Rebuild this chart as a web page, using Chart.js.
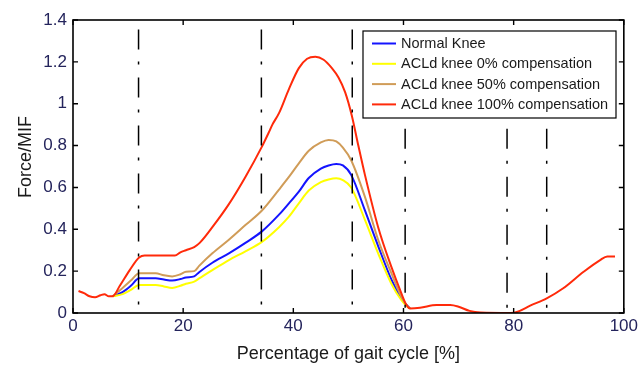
<!DOCTYPE html>
<html lang="en">
  <head>
    <meta charset="UTF-8" />
    <title>Knee force over gait cycle</title>
    <script src="https://cdn.jsdelivr.net/npm/chart.js@4"></script>
    <style>
      body { margin: 0; background: #fff; }
    </style>
  </head>
  <body>
    <canvas id="gaitChart" width="641" height="366"></canvas>
  </body>
  <script>
    // gait cycle samples shared by the normal / 0% / 50% curves
    const gaitX = [7.2, 9, 10.5, 12, 15, 16.5, 18, 19.5, 20.5, 22, 22.9, 25.3, 28.3, 31.3, 34.3,
      37.4, 39.2, 41, 42.8, 45, 46.4, 47.8, 49, 50.5, 53, 55.4, 57.8, 59.6, 60.5, 61.2];
    const normalKnee = [0.08, 0.1, 0.13, 0.166, 0.166, 0.16, 0.155, 0.162, 0.17, 0.175, 0.195, 0.24, 0.285, 0.335, 0.39,
      0.47, 0.524, 0.58, 0.645, 0.69, 0.705, 0.712, 0.705, 0.66, 0.49, 0.32, 0.16, 0.07, 0.04, 0.022];
    const acld0 = [0.08, 0.09, 0.11, 0.134, 0.134, 0.127, 0.12, 0.13, 0.14, 0.15, 0.165, 0.205, 0.253, 0.295, 0.34,
      0.41, 0.46, 0.524, 0.585, 0.625, 0.638, 0.644, 0.635, 0.6, 0.445, 0.285, 0.14, 0.062, 0.035, 0.022];
    const acld50 = [0.08, 0.12, 0.155, 0.19, 0.19, 0.18, 0.175, 0.185, 0.197, 0.2, 0.225, 0.285, 0.35, 0.42, 0.49,
      0.59, 0.65, 0.715, 0.775, 0.815, 0.827, 0.82, 0.79, 0.73, 0.555, 0.35, 0.19, 0.078, 0.04, 0.022];

    // 100% compensation covers the whole cycle
    const fullX = [1, 2, 3, 4, 5, 5.7, 6.5, 7.2, 8.5, 10.3, 12, 13, 18.5, 19.5, 20.5, 22, 23,
      25.3, 28.3, 31.3, 34.3, 35.5, 36.2, 37.4, 39.2, 41, 42.5, 44, 45.5, 47, 48.2, 49.4, 50.6, 51.8, 53, 55.4, 57.8, 59.6,
      60.5, 61.2, 63, 66, 68.5, 70, 72, 74, 79.5, 80.7, 83, 86, 89, 92.7, 95.7, 97, 98.4];
    const acld100 = [0.105, 0.095, 0.08, 0.075, 0.085, 0.09, 0.08, 0.08, 0.13, 0.205, 0.265, 0.275, 0.275, 0.29, 0.3, 0.315, 0.335,
      0.41, 0.52, 0.65, 0.795, 0.86, 0.9, 0.955, 1.07, 1.17, 1.215, 1.225, 1.21, 1.17, 1.125, 1.055, 0.945, 0.8, 0.66, 0.41, 0.22, 0.095,
      0.04, 0.022, 0.025, 0.038, 0.038, 0.03, 0.01, 0.002, 0, 0.006, 0.035, 0.07, 0.118, 0.197, 0.253, 0.27, 0.27];

    // gait phase boundaries (dash-dot markers)
    const phaseX = [11.9, 34.2, 50.7, 60.3, 78.8, 86.0];
    const phaseTop = [1.355, 1.355, 1.355, 0.88, 0.88, 0.88];

    const seriesLabels = ["Normal Knee", "ACLd knee 0% compensation", "ACLd knee 50% compensation", "ACLd knee 100% compensation"];
    const seriesColors = ["#1414ff", "#ffff00", "#d09c58", "#ff2a0a"];

    const xTicks = [0, 20, 40, 60, 80, 100];
    const yTicks = [0, 0.2, 0.4, 0.6, 0.8, 1, 1.2, 1.4];

    const toPoints = (xs, ys) => xs.map((x, i) => ({x: x, y: ys[i]}));

    function curve(idx, xs, ys, order) {
      return {
        label: seriesLabels[idx],
        data: toPoints(xs, ys),
        borderColor: seriesColors[idx],
        borderWidth: 2,
        pointRadius: 0,
        cubicInterpolationMode: "monotone",
        order: order,
      };
    }

    const phaseSets = phaseX.map((x, i) => ({
      label: "phase",
      data: [{x: x, y: phaseTop[i]}, {x: x, y: 0}],
      borderColor: "#000",
      borderWidth: 1.5,
      borderDash: [20, 12, 3, 13],
      pointRadius: 0,
      order: -1,
    }));

    // frame with inward ticks, axis titles and boxed legend
    const matlabFrame = {
      id: "matlabFrame",
      afterDraw(chart) {
        const {ctx, chartArea: a, scales} = chart;
        const tl = 5;
        ctx.save();
        ctx.setLineDash([]);
        ctx.strokeStyle = "#000000";
        ctx.lineWidth = 1.6;
        ctx.strokeRect(a.left, a.top, a.right - a.left, a.bottom - a.top);
        ctx.lineWidth = 1.4;
        ctx.beginPath();
        xTicks.forEach((v) => {
          const px = scales.x.getPixelForValue(v);
          ctx.moveTo(px, a.bottom); ctx.lineTo(px, a.bottom - tl);
          ctx.moveTo(px, a.top); ctx.lineTo(px, a.top + tl);
        });
        yTicks.forEach((v) => {
          const py = scales.y.getPixelForValue(v);
          ctx.moveTo(a.left, py); ctx.lineTo(a.left + tl, py);
          ctx.moveTo(a.right, py); ctx.lineTo(a.right - tl, py);
        });
        ctx.stroke();

        // axis titles
        ctx.fillStyle = "#1a1a1a";
        ctx.font = "18px 'Liberation Sans', Arial, sans-serif";
        ctx.textAlign = "center";
        ctx.textBaseline = "alphabetic";
        ctx.fillText("Percentage of gait cycle [%]", (a.left + a.right) / 2, 359);
        ctx.translate(31, 157);
        ctx.rotate(-Math.PI / 2);
        ctx.fillText("Force/MIF", 0, 0);
        ctx.setTransform(1, 0, 0, 1, 0, 0);

        // legend box
        const lx = 363, ly = 31, lw = 253, lh = 87;
        ctx.fillStyle = "#fff";
        ctx.fillRect(lx, ly, lw, lh);
        ctx.strokeStyle = "#000";
        ctx.lineWidth = 1.2;
        ctx.strokeRect(lx, ly, lw, lh);
        ctx.font = "14.5px 'Liberation Sans', Arial, sans-serif";
        ctx.textAlign = "left";
        ctx.textBaseline = "middle";
        seriesLabels.forEach((label, i) => {
          const ry = 43.5 + i * 20.3;
          ctx.strokeStyle = seriesColors[i];
          ctx.lineWidth = 2;
          ctx.beginPath();
          ctx.moveTo(372, ry); ctx.lineTo(396, ry);
          ctx.stroke();
          ctx.fillStyle = "#1a1a1a";
          ctx.fillText(label, 401, ry + 0.5);
        });
        ctx.restore();
      },
    };

    const tickFont = {family: "'Liberation Sans', Arial", size: 17};

    const ctx = document.getElementById("gaitChart").getContext("2d");
    const gaitChart = new Chart(ctx, {
      type: "line",
      data: {
        datasets: [
          curve(0, gaitX, normalKnee, 3),
          curve(1, gaitX, acld0, 2),
          curve(2, gaitX, acld50, 1),
          curve(3, fullX, acld100, 0),
          ...phaseSets,
        ],
      },
      options: {
        responsive: false,
        animation: false,
        layout: {padding: {top: 20, right: 14, left: 0, bottom: 0}},
        plugins: {legend: {display: false}, tooltip: {enabled: false}},
        scales: {
          x: {
            type: "linear",
            min: 0,
            max: 100,
            afterBuildTicks: (s) => { s.ticks = xTicks.map((v) => ({value: v})); },
            afterFit: (s) => { s.height = 53; },
            grid: {display: false, drawTicks: false},
            border: {display: false},
            ticks: {padding: 3, color: "#24245c", font: tickFont, callback: (v) => String(v)},
          },
          y: {
            min: 0,
            max: 1.4,
            afterBuildTicks: (s) => { s.ticks = yTicks.map((v) => ({value: v})); },
            afterFit: (s) => { s.width = 73; },
            grid: {display: false, drawTicks: false},
            border: {display: false},
            ticks: {padding: 6, color: "#24245c", font: tickFont, callback: (v) => String(v)},
          },
        },
      },
      plugins: [matlabFrame],
    });
  </script>
</html>
